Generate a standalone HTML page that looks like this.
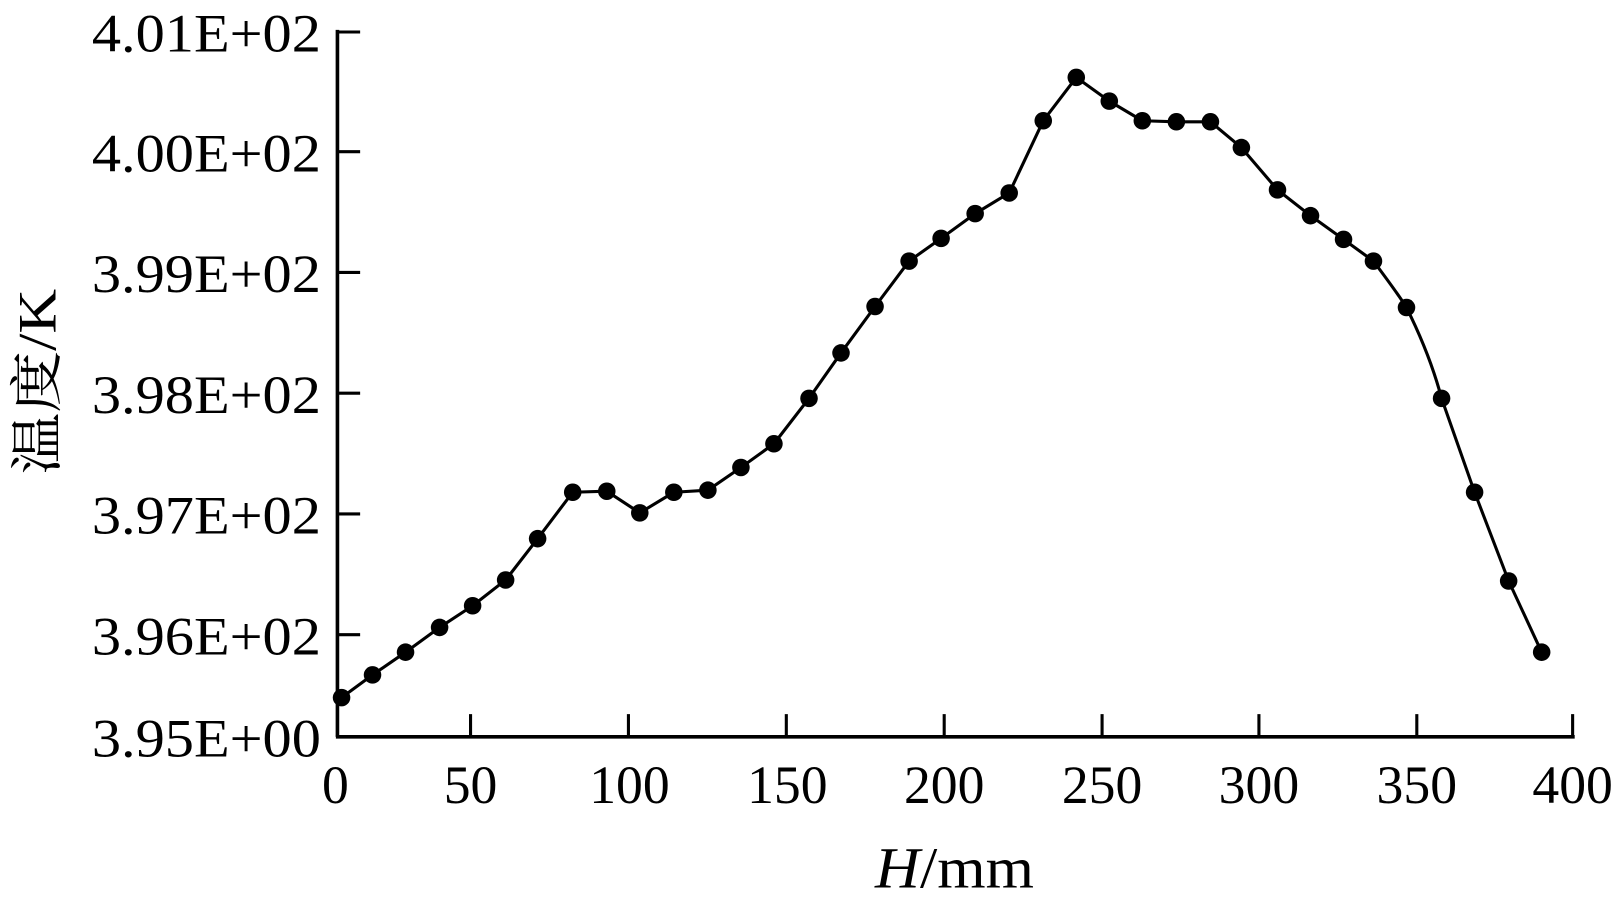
<!DOCTYPE html>
<html><head><meta charset="utf-8"><style>
html,body{margin:0;padding:0;background:#fff;}
svg{display:block}
text{font-family:"Liberation Serif","Noto Serif CJK SC",serif;fill:#000}
</style></head><body>
<svg width="1617" height="904" viewBox="0 0 1567 876" preserveAspectRatio="none" xmlns="http://www.w3.org/2000/svg">
<g stroke="#000" stroke-width="3.5" fill="none">
<line x1="327" y1="29" x2="327" y2="714"/>
<line x1="325.5" y1="714" x2="1526" y2="714"/>
<g stroke-width="3">
<line x1="327" y1="31" x2="349" y2="31"/>
<line x1="327" y1="147" x2="349" y2="147"/>
<line x1="327" y1="264" x2="349" y2="264"/>
<line x1="327" y1="381" x2="349" y2="381"/>
<line x1="327" y1="498" x2="349" y2="498"/>
<line x1="327" y1="615" x2="349" y2="615"/>
<line x1="456" y1="714" x2="456" y2="692"/>
<line x1="609" y1="714" x2="609" y2="692"/>
<line x1="762" y1="714" x2="762" y2="692"/>
<line x1="915" y1="714" x2="915" y2="692"/>
<line x1="1068" y1="714" x2="1068" y2="692"/>
<line x1="1220" y1="714" x2="1220" y2="692"/>
<line x1="1373" y1="714" x2="1373" y2="692"/>
<line x1="1524" y1="714" x2="1524" y2="692"/>
</g>
<path stroke-width="3" stroke-linejoin="round" d="M331,676 L361,654 393,632 426,608 458,587 490,562 521,522 555,477 588,476 620,497 653,477 686,475 718,453 750,430 784,386 815,342 848,297 881,253 912,231 945,207 978,187 1011,117 1043,75 1075,98 1107,117 1140,118 1173,118 1203,143 1238,184 1270,209 1302,232 1331,253 C1345,272 1355,285 1363,298 C1375,322 1388,352 1397,386 L1429,477 1462,563 1494,632"/>
</g>
<g fill="#000">
<circle cx="331" cy="676" r="8.5"/><circle cx="361" cy="654" r="8.5"/><circle cx="393" cy="632" r="8.5"/><circle cx="426" cy="608" r="8.5"/><circle cx="458" cy="587" r="8.5"/><circle cx="490" cy="562" r="8.5"/><circle cx="521" cy="522" r="8.5"/><circle cx="555" cy="477" r="8.5"/><circle cx="588" cy="476" r="8.5"/><circle cx="620" cy="497" r="8.5"/><circle cx="653" cy="477" r="8.5"/><circle cx="686" cy="475" r="8.5"/><circle cx="718" cy="453" r="8.5"/><circle cx="750" cy="430" r="8.5"/><circle cx="784" cy="386" r="8.5"/><circle cx="815" cy="342" r="8.5"/><circle cx="848" cy="297" r="8.5"/><circle cx="881" cy="253" r="8.5"/><circle cx="912" cy="231" r="8.5"/><circle cx="945" cy="207" r="8.5"/><circle cx="978" cy="187" r="8.5"/><circle cx="1011" cy="117" r="8.5"/><circle cx="1043" cy="75" r="8.5"/><circle cx="1075" cy="98" r="8.5"/><circle cx="1107" cy="117" r="8.5"/><circle cx="1140" cy="118" r="8.5"/><circle cx="1173" cy="118" r="8.5"/><circle cx="1203" cy="143" r="8.5"/><circle cx="1238" cy="184" r="8.5"/><circle cx="1270" cy="209" r="8.5"/><circle cx="1302" cy="232" r="8.5"/><circle cx="1331" cy="253" r="8.5"/><circle cx="1363" cy="298" r="8.5"/><circle cx="1397" cy="386" r="8.5"/><circle cx="1429" cy="477" r="8.5"/><circle cx="1462" cy="563" r="8.5"/><circle cx="1494" cy="632" r="8.5"/>
</g>
<g font-size="52" text-anchor="end">
<text x="311" y="50" textLength="222" lengthAdjust="spacingAndGlyphs">4.01E+02</text>
<text x="311" y="166" textLength="222" lengthAdjust="spacingAndGlyphs">4.00E+02</text>
<text x="311" y="283" textLength="222" lengthAdjust="spacingAndGlyphs">3.99E+02</text>
<text x="311" y="400" textLength="222" lengthAdjust="spacingAndGlyphs">3.98E+02</text>
<text x="311" y="517" textLength="222" lengthAdjust="spacingAndGlyphs">3.97E+02</text>
<text x="311" y="634" textLength="222" lengthAdjust="spacingAndGlyphs">3.96E+02</text>
<text x="311" y="733" textLength="222" lengthAdjust="spacingAndGlyphs">3.95E+00</text>
</g>
<g font-size="52" text-anchor="middle">
<text x="325" y="778">0</text>
<text x="456" y="778">50</text>
<text x="610" y="778">100</text>
<text x="763" y="778">150</text>
<text x="915" y="778">200</text>
<text x="1068" y="778">250</text>
<text x="1220" y="778">300</text>
<text x="1373" y="778">350</text>
<text x="1524" y="778">400</text>
</g>
<text x="925" y="860" font-size="56" text-anchor="middle" textLength="154" lengthAdjust="spacingAndGlyphs"><tspan font-style="italic">H</tspan>/mm</text>
<text transform="translate(54,370) rotate(-90)" font-size="52" text-anchor="middle" textLength="180" lengthAdjust="spacingAndGlyphs">温度/K</text>
</svg>
</body></html>
